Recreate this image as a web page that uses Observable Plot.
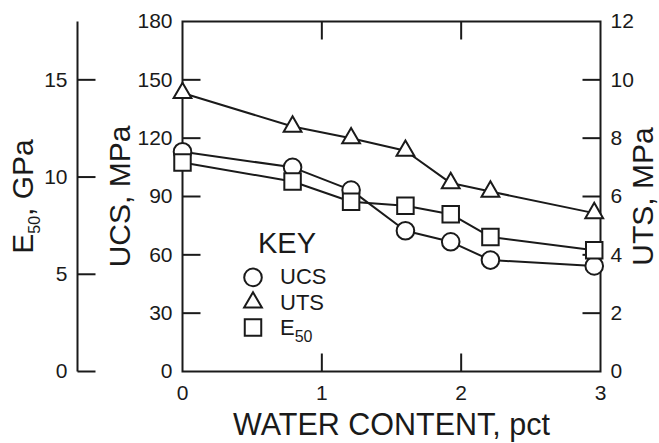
<!DOCTYPE html>
<html>
<head>
<meta charset="utf-8">
<script src="https://cdn.jsdelivr.net/npm/d3@7"></script>
<script src="https://cdn.jsdelivr.net/npm/@observablehq/plot@0.6"></script>
<style>
  html, body { margin: 0; padding: 0; background: #ffffff; }
</style>
</head>
<body>
<div id="chart"></div>
<script>
// ---- data ----
const water = [0, 0.79, 1.21, 1.60, 1.925, 2.21, 2.955];          // WATER CONTENT, pct
const ucs   = [113, 105, 93.3, 72.4, 66.7, 57.3, 54.3];           // UCS, MPa
const uts   = [9.55, 8.40, 8.0, 7.57, 6.46, 6.17, 5.43];          // UTS, MPa
const e50   = [10.75, 9.77, 8.73, 8.52, 8.09, 6.92, 6.24];        // E50, GPa

const xTicks   = [0, 1, 2, 3];
const ucsTicks = [0, 30, 60, 90, 120, 150, 180];
const utsTicks = [0, 2, 4, 6, 8, 10, 12];
const e50Ticks = [0, 5, 10, 15];

const legendItems = [
  {label: "UCS", symbol: "circle"},
  {label: "UTS", symbol: "triangle"},
  {label: "E50", symbol: "square"}
];

// ---- layout & style ----
const W = 659, H = 443;
const mL = 182, mR = 59, mT = 21, mB = 72;
const plotW = W - mL - mR, plotH = H - mT - mB;
const xDom = [0, 3], yDom = [0, 180];
const ink = "#1a1a1a";
const font = "'Liberation Sans', Arial, Helvetica, sans-serif";
const tickLen = 18;                                   // px, inward ticks
const tx = tickLen * (xDom[1] - xDom[0]) / plotW;     // tick length in x units
const ty = tickLen * (yDom[1] - yDom[0]) / plotH;     // tick length in y units
const e50AxisOffset = -105;
const utsFactor = 180 / 12;   // UTS axis 0-12 shares the UCS 0-180 range
const e50Factor = 180 / 18;   // E50 axis 0-18 shares the UCS 0-180 range
const symR = {circle: 8.8, triangle: 6.6, square: 9.3};
const legendPos = {symX: 0.506, labelX: 0.70, keyX: 0.75, keyY: 65.6, row0: 48.4, step: 12.9};

const rows = water.map((w, i) => ({w, ucs: ucs[i], uts: uts[i], e50: e50[i]}));
const series = [
  {key: "ucs", f: 1, symbol: "circle"},
  {key: "uts", f: utsFactor, symbol: "triangle"},
  {key: "e50", f: e50Factor, symbol: "square"}
];

const stroke = {stroke: ink, strokeWidth: 2, strokeLinecap: "butt"};

const lineMarks = series.map(s => Plot.line(rows, {
  x: "w", y: d => d[s.key] * s.f, stroke: ink, strokeWidth: 2, strokeLinejoin: "round"
}));
const dotMarks = series.map(s => Plot.dot(rows, {
  x: "w", y: d => d[s.key] * s.f, symbol: () => s.symbol, r: symR[s.symbol],
  fill: "white", stroke: ink, strokeWidth: 2
}));
const legendDots = legendItems.map((d, i) => Plot.dot([d], {
  x: () => legendPos.symX, y: () => legendPos.row0 - i * legendPos.step,
  symbol: () => d.symbol, r: symR[d.symbol], fill: "white", stroke: ink, strokeWidth: 2
}));

const inner = (arr) => arr.slice(1, -1);

const chart = Plot.plot({
  width: W, height: H,
  marginLeft: mL, marginRight: mR, marginTop: mT, marginBottom: mB,
  x: {domain: xDom, axis: null},
  y: {domain: yDom, axis: null},
  symbol: {domain: ["circle", "triangle", "square"], range: ["circle", "triangle", "square"]},
  style: {fontFamily: font, fontSize: "21px", color: ink, background: "white"},
  marks: [
    // inward ticks on the frame
    Plot.link(inner(ucsTicks), {x1: () => xDom[0], x2: () => xDom[0] + tx, y1: d => d, y2: d => d, ...stroke}),
    Plot.link(inner(utsTicks), {x1: () => xDom[1] - tx, x2: () => xDom[1], y1: d => d * utsFactor, y2: d => d * utsFactor, ...stroke}),
    Plot.link(inner(xTicks), {x1: d => d, x2: d => d, y1: () => yDom[0], y2: () => yDom[0] + ty, ...stroke}),
    Plot.link(inner(xTicks), {x1: d => d, x2: d => d, y1: () => yDom[1] - ty, y2: () => yDom[1], ...stroke}),
    // separate E50 axis on the far left
    Plot.link([0], {x1: () => xDom[0], x2: () => xDom[0], y1: () => yDom[0], y2: () => yDom[1], dx: e50AxisOffset, ...stroke}),
    Plot.link(e50Ticks, {x1: () => xDom[0], x2: () => xDom[0] + tx, y1: d => d * e50Factor, y2: d => d * e50Factor, dx: e50AxisOffset, ...stroke}),
    // tick labels
    Plot.text(ucsTicks, {y: d => d, text: d => String(d), frameAnchor: "left", textAnchor: "end", lineAnchor: "middle", dx: -10, fontSize: 21, fill: ink}),
    Plot.text(utsTicks, {y: d => d * utsFactor, text: d => String(d), frameAnchor: "right", textAnchor: "start", lineAnchor: "middle", dx: 10, fontSize: 21, fill: ink}),
    Plot.text(e50Ticks, {y: d => d * e50Factor, text: d => String(d), frameAnchor: "left", textAnchor: "end", lineAnchor: "middle", dx: e50AxisOffset - 10, fontSize: 21, fill: ink}),
    Plot.text(xTicks, {x: d => d, text: d => String(d), frameAnchor: "bottom", textAnchor: "middle", lineAnchor: "top", dy: 14, fontSize: 21, fill: ink}),
    // axis titles
    Plot.text(["WATER CONTENT, pct"], {text: d => d, frameAnchor: "bottom", textAnchor: "middle", lineAnchor: "middle", dy: 54, fontSize: 30.5, fill: ink}),
    Plot.text(["UCS, MPa"], {text: d => d, frameAnchor: "left", textAnchor: "middle", lineAnchor: "middle", rotate: -90, dx: -62, fontSize: 30, fill: ink}),
    Plot.text(["UTS, MPa"], {text: d => d, frameAnchor: "right", textAnchor: "middle", lineAnchor: "middle", rotate: -90, dx: 43, fontSize: 30, fill: ink}),
    Plot.text(["E50, GPa"], {text: d => d, frameAnchor: "left", textAnchor: "middle", lineAnchor: "middle", rotate: -90, dx: -159, fontSize: 30, fill: ink}),
    // data
    Plot.frame({stroke: ink, strokeWidth: 2}),
    ...lineMarks,
    ...dotMarks,
    // key
    Plot.text(["KEY"], {text: d => d, x: () => legendPos.keyX, y: () => legendPos.keyY, fontSize: 29, fill: ink}),
    ...legendDots,
    Plot.text(legendItems, {x: () => legendPos.labelX, y: (d, i) => legendPos.row0 - i * legendPos.step,
      text: "label", textAnchor: "start", fontSize: 22, fill: ink})
  ]
});

// subscripts for "E50"
d3.select(chart).selectAll("text").each(function () {
  const t = this.textContent;
  if (t !== "E50, GPa" && t !== "E50") return;
  const fs = parseFloat(this.getAttribute("font-size")) || parseFloat(getComputedStyle(this).fontSize) || 22;
  const sub = Math.round(fs * 0.74);
  const shift = Math.round(fs * 0.33);
  const el = d3.select(this);
  el.text(null);
  el.append("tspan").text("E");
  el.append("tspan").attr("font-size", sub).attr("dy", shift).text("50");
  if (t.length > 3) el.append("tspan").attr("dy", -shift).text(t.slice(3));
});

document.getElementById("chart").appendChild(chart);
</script>
</body>
</html>
